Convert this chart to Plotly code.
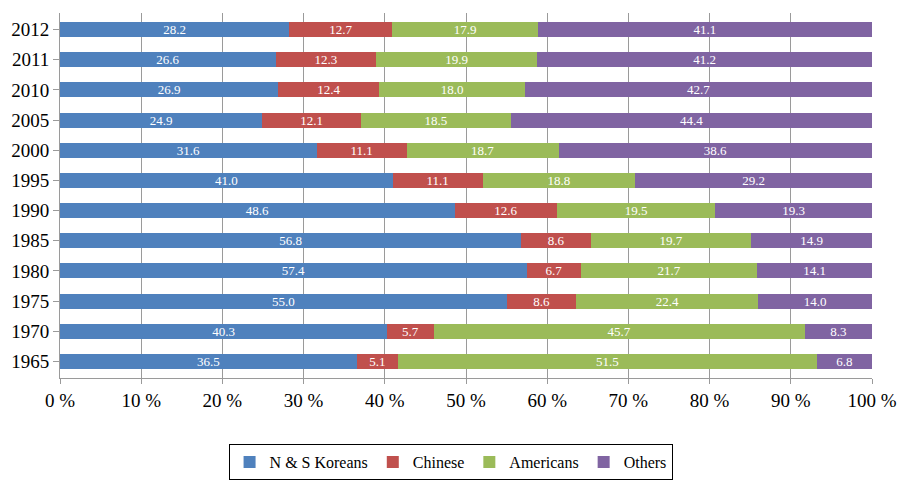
import plotly.graph_objects as go

years = ["1965", "1970", "1975", "1980", "1985", "1990", "1995", "2000", "2005", "2010", "2011", "2012"]
koreans = [36.5, 40.3, 55.0, 57.4, 56.8, 48.6, 41.0, 31.6, 24.9, 26.9, 26.6, 28.2]
chinese = [5.1, 5.7, 8.6, 6.7, 8.6, 12.6, 11.1, 11.1, 12.1, 12.4, 12.3, 12.7]
americans = [51.5, 45.7, 22.4, 21.7, 19.7, 19.5, 18.8, 18.7, 18.5, 18.0, 19.9, 17.9]
others = [6.8, 8.3, 14.0, 14.1, 14.9, 19.3, 29.2, 38.6, 44.4, 42.7, 41.2, 41.1]
x_ticks = list(range(0, 101, 10))
x_tick_labels = [f"{v} %" for v in x_ticks]

series = [
    ("N & S Koreans", koreans, "#4F81BD"),
    ("Chinese", chinese, "#C0504D"),
    ("Americans", americans, "#9BBB59"),
    ("Others", others, "#8064A2"),
]

FONT = "Liberation Serif, Times New Roman, serif"

fig = go.Figure()
for name, vals, color in series:
    fig.add_trace(go.Bar(
        y=years, x=vals, name=name, orientation="h",
        marker=dict(color=color, line=dict(width=0)),
        text=[f"{v:.1f}" for v in vals],
        textposition="inside", insidetextanchor="middle",
        constraintext="none",
        textfont=dict(color="white", size=13, family=FONT),
        hoverinfo="skip",
    ))

fig.update_layout(
    barmode="stack", barnorm="percent", bargap=0.5,
    width=898, height=481,
    margin=dict(l=60, r=26, t=13, b=103, autoexpand=False),
    plot_bgcolor="white", paper_bgcolor="white",
    font=dict(family=FONT, color="black"),
    xaxis=dict(
        range=[0, 100], tickmode="array", tickvals=x_ticks, ticktext=x_tick_labels,
        showgrid=True, gridcolor="#9a9a9a", gridwidth=1,
        showline=True, linecolor="#9a9a9a", ticks="outside", tickcolor="#9a9a9a", ticklen=5,
        tickfont=dict(size=19, family=FONT), zeroline=False, fixedrange=True,
    ),
    yaxis=dict(
        categoryorder="array", categoryarray=years,
        showline=True, linecolor="#9a9a9a", ticks="outside", tickcolor="#9a9a9a", ticklen=6,
        tickfont=dict(size=19, family=FONT), showgrid=False,
        range=[-0.55, 11.55],
    ),
    legend=dict(
        orientation="h", x=0.481, xanchor="center",
        yref="container", y=0.002, yanchor="bottom",
        bordercolor="black", borderwidth=1, bgcolor="white",
        font=dict(size=16, family=FONT), traceorder="normal",
        itemwidth=30, tracegroupgap=0,
    ),
)

fig.write_html("out.html")
